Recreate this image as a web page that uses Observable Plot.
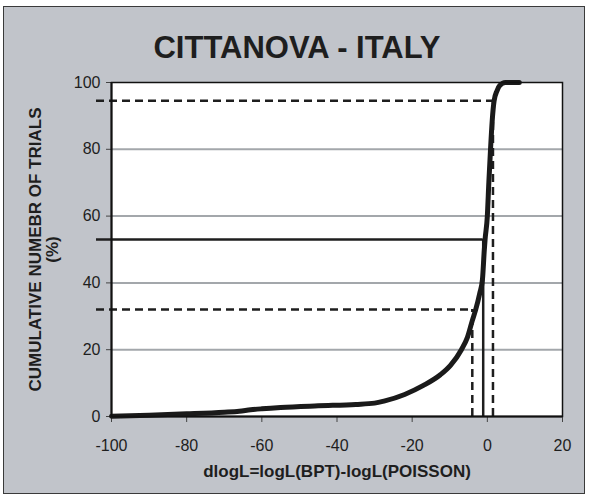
<!DOCTYPE html>
<html><head><meta charset="utf-8">
<script src="https://cdn.jsdelivr.net/npm/d3@7"></script>
<script src="https://cdn.jsdelivr.net/npm/@observablehq/plot@0.6"></script>
<style>
html,body{margin:0;padding:0;background:#fff;}
#wrap{position:relative;width:589px;height:498px;overflow:hidden;background:#fff;}
#panel{position:absolute;left:3px;top:6px;width:580px;height:486px;background:#c1c4ca;border:1px solid #3a3a3a;}
#chart{position:absolute;left:0;top:0;}
</style></head><body>
<div id="wrap"><div id="panel"></div><div id="chart"></div></div>
<script>
const titleText = "CITTANOVA - ITALY";
const xLabel = "dlogL=logL(BPT)-logL(POISSON)";
const yLabel = "CUMULATIVE NUMEBR OF TRIALS\n(%)";
const xTicks = [-100, -80, -60, -40, -20, 0, 20];
const yTicks = [0, 20, 40, 60, 80, 100];
const gridLevels = [20, 40, 60, 80];
const dlogL = [-100, -90, -80, -70, -66, -63, -60, -55, -45, -35, -30, -27.5, -22, -17, -12.5, -9.8, -6.9, -5.3, -4.0, -3.1, -2.0, -1.3, -0.8, -0.6, 0.0, 0.4, 0.85, 1.3, 1.8, 2.6, 3.3, 4.8, 8.5];
const cumPct = [0.1, 0.4, 0.8, 1.3, 1.6, 2.0, 2.3, 2.7, 3.2, 3.6, 4.0, 4.6, 6.6, 9.3, 12.5, 15.3, 20, 23.7, 28.7, 32, 37, 41, 50, 53, 60, 70, 80, 88.6, 94.5, 97.6, 99.1, 100, 100];
const refLevel = [94.5, 53, 32];
const refDlogL = [1.5, -1.1, -4.0];
const refDashed = [true, false, true];

const curve = dlogL.map((x, i) => ({x, y: cumPct[i]}));
const refs = refLevel.map((level, i) => ({level, x: refDlogL[i], dashed: refDashed[i]}));
const dashedRefs = refs.filter(d => d.dashed);
const solidRefs = refs.filter(d => !d.dashed);

const ink = "#1e1e1e";
const chart = Plot.plot({
  width: 589, height: 498,
  marginLeft: 111, marginRight: 27, marginTop: 82, marginBottom: 82,
  style: {background: "transparent", fontFamily: "'Liberation Sans', Arial, sans-serif", fontSize: "16px", color: ink, overflow: "visible"},
  x: {domain: [-100, 20]},
  y: {domain: [0, 100]},
  marks: [
    Plot.frame({fill: "white", stroke: null}),
    Plot.gridY(gridLevels, {stroke: "#a3a7ab", strokeOpacity: 1, strokeWidth: 2}),
    Plot.axisY({ticks: yTicks, tickSize: 5, tickPadding: 6, tickFormat: d => String(d), label: null, fontSize: 16, stroke: "#444"}),
    Plot.axisX({ticks: xTicks, tickSize: 6, tickPadding: 17, tickFormat: d => String(d), label: null, fontSize: 16, stroke: "#444"}),
    Plot.ruleY(dashedRefs, {y: "level", x1: -100, x2: "x", insetLeft: -15, stroke: ink, strokeWidth: 2.5, strokeDasharray: "8,5"}),
    Plot.ruleY(solidRefs, {y: "level", x1: -100, x2: "x", insetLeft: -15, stroke: ink, strokeWidth: 2.5}),
    Plot.ruleX(dashedRefs, {x: "x", y1: 0, y2: "level", stroke: ink, strokeWidth: 2.5, strokeDasharray: "8,5"}),
    Plot.ruleX(solidRefs, {x: "x", y1: 0, y2: "level", stroke: ink, strokeWidth: 2.5}),
    Plot.ruleY([0], {stroke: "#111", strokeWidth: 2}),
    Plot.ruleX([-100], {stroke: "#111", strokeWidth: 2}),
    Plot.line(curve, {x: "x", y: "y", stroke: "#1a1a1a", strokeWidth: 5, curve: "monotone-x"}),
    Plot.frame({stroke: "#111", strokeWidth: 1.5}),
    Plot.text([titleText], {frameAnchor: "top", dx: -40, dy: -34, lineAnchor: "middle", fontSize: 31, fontWeight: "bold", fill: ink}),
    Plot.text([yLabel], {frameAnchor: "left", dx: -67, rotate: -90, lineAnchor: "middle", textAnchor: "middle", lineHeight: 1.0, fontSize: 17, fontWeight: "bold", fill: ink}),
    Plot.text([xLabel], {frameAnchor: "bottom", dy: 55, lineAnchor: "middle", fontSize: 17, fontWeight: "bold", fill: ink})
  ]
});
document.getElementById("chart").appendChild(chart);
</script>
</body></html>
